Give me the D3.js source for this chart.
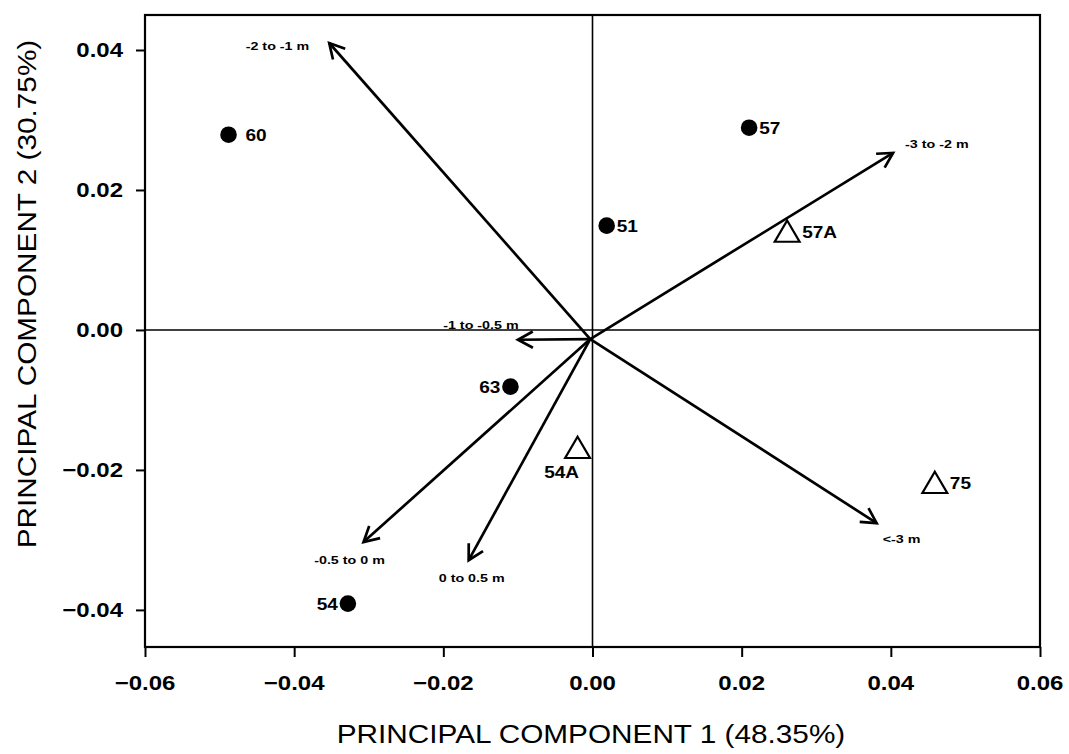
<!DOCTYPE html>
<html><head><meta charset="utf-8">
<script src="https://cdn.jsdelivr.net/npm/d3@7"></script>
<style>html,body{margin:0;padding:0;background:#fff;} svg{display:block;}</style>
</head><body>
<svg id="chart" width="1069" height="754"></svg>
<script>
// ---- data ----
const siteNames   = ["60", "57", "51", "57A", "63", "54", "54A", "75"];
const siteShapes  = ["circle", "circle", "circle", "triangle", "circle", "circle", "triangle", "triangle"];
const siteX       = [-0.0488, 0.0210, 0.0019, 0.0261, -0.0110, -0.0328, -0.0020, 0.0459];
const siteY       = [0.0279, 0.0289, 0.0149, 0.0140, -0.0081, -0.0391, -0.0169, -0.0219];
const siteLabelSide = ["farright", "right", "right", "right", "left", "left", "belowleft", "right"];

const vectorNames = ["-2 to -1 m", "-3 to -2 m", "-1 to -0.5 m", "-0.5 to 0 m", "0 to 0.5 m", "<-3 m"];
const vectorX     = [-0.0353, 0.0403, -0.0100, -0.0307, -0.0166, 0.0381];
const vectorY     = [0.0410, 0.0253, -0.0014, -0.0303, -0.0329, -0.0276];
const vectorOrigin = [-0.0003, -0.0013];
const vectorLabelSide = ["left", "right", "above", "below", "belowmid", "belowright"];

const xTicks = [-0.06, -0.04, -0.02, 0.00, 0.02, 0.04, 0.06];
const yTicks = [-0.04, -0.02, 0.00, 0.02, 0.04];
const xTitle = "PRINCIPAL COMPONENT 1 (48.35%)";
const yTitle = "PRINCIPAL COMPONENT 2 (30.75%)";

// ---- layout ----
const L = 145, R = 1040, T = 15, B = 647;
const FONT = "'Liberation Sans', Arial, Helvetica, sans-serif";
const svg = d3.select("#chart");
const x = d3.scaleLinear().domain([-0.06, 0.06]).range([L, R]);
const y = d3.scaleLinear().domain([-0.0453, 0.045]).range([B, T]);

// stretched text helper
function wideText(parent, px, py, str, opts) {
  const g = parent.append("g")
    .attr("transform", `translate(${px},${py}) ${opts.rotate ? "rotate(" + opts.rotate + ")" : ""} scale(${opts.sx || 1},1)`);
  g.append("text")
    .attr("x", 0).attr("y", 0)
    .attr("text-anchor", opts.anchor || "start")
    .attr("font-family", FONT)
    .attr("font-size", opts.size)
    .attr("font-weight", opts.weight || "normal")
    .attr("fill", "#000")
    .text(str);
  return g;
}

// zero lines
svg.append("line").attr("x1", L).attr("x2", R).attr("y1", y(0)).attr("y2", y(0))
  .attr("stroke", "#000").attr("stroke-width", 1.6);
svg.append("line").attr("x1", x(0)).attr("x2", x(0)).attr("y1", T).attr("y2", B)
  .attr("stroke", "#000").attr("stroke-width", 1.6);

// axes
const xAxis = svg.append("g").attr("transform", `translate(0,${B})`)
  .call(d3.axisBottom(x).tickValues(xTicks).tickSize(10).tickFormat(""));
const yAxis = svg.append("g").attr("transform", `translate(${L},0)`)
  .call(d3.axisLeft(y).tickValues(yTicks).tickSize(9).tickFormat(""));
[xAxis, yAxis].forEach(a => {
  a.select(".domain").remove();
  a.selectAll(".tick line").attr("stroke", "#000").attr("stroke-width", 2);
});
// frame
svg.append("rect").attr("x", L).attr("y", T).attr("width", R - L).attr("height", B - T)
  .attr("fill", "none").attr("stroke", "#000").attr("stroke-width", 2.2);

// tick labels
const fmt = d3.format(".2f");
xTicks.forEach(t => wideText(svg, x(t), 690, fmt(t), {size: 20, weight: "bold", anchor: "middle", sx: 1.2}));
yTicks.forEach(t => wideText(svg, 123, y(t) + 7, fmt(t), {size: 20, weight: "bold", anchor: "end", sx: 1.2}));

// axis titles
wideText(svg, 591, 743, xTitle, {size: 25, anchor: "middle", sx: 1.19});
wideText(svg, 36, 294, yTitle, {size: 25, anchor: "middle", sx: 1.19, rotate: -90});

// vectors
const ox = x(vectorOrigin[0]), oy = y(vectorOrigin[1]);
const vg = svg.append("g");
vectorNames.forEach((name, i) => {
  const tx = x(vectorX[i]), ty = y(vectorY[i]);
  vg.append("line").attr("x1", ox).attr("y1", oy).attr("x2", tx).attr("y2", ty)
    .attr("stroke", "#000").attr("stroke-width", 2.7);
  const ang = Math.atan2(ty - oy, tx - ox);
  const hl = 17, ha = 0.5;
  const p1 = [tx - hl * Math.cos(ang - ha), ty - hl * Math.sin(ang - ha)];
  const p2 = [tx - hl * Math.cos(ang + ha), ty - hl * Math.sin(ang + ha)];
  vg.append("path").attr("d", `M${p1[0]},${p1[1]}L${tx},${ty}L${p2[0]},${p2[1]}`)
    .attr("fill", "none").attr("stroke", "#000").attr("stroke-width", 2.7)
    .attr("stroke-linejoin", "miter");
  let lx, ly, anc;
  switch (vectorLabelSide[i]) {
    case "left": lx = tx - 20; ly = ty + 7; anc = "end"; break;
    case "right": lx = tx + 12; ly = ty - 5; anc = "start"; break;
    case "above": lx = tx - 37; ly = ty - 11; anc = "middle"; break;
    case "below": lx = tx - 14; ly = ty + 22; anc = "middle"; break;
    case "belowmid": lx = tx + 3; ly = ty + 22; anc = "middle"; break;
    case "belowright": lx = tx + 6; ly = ty + 20; anc = "start"; break;
  }
  wideText(vg, lx, ly, name, {size: 11, weight: "bold", anchor: anc, sx: 1.3});
});

// sites
const sg = svg.append("g");
siteNames.forEach((name, i) => {
  const cx = x(siteX[i]), cy = y(siteY[i]);
  if (siteShapes[i] === "circle") {
    sg.append("circle").attr("cx", cx).attr("cy", cy).attr("r", 8.3).attr("fill", "#000");
  } else {
    const s = 11.5;
    sg.append("path")
      .attr("d", `M${cx},${cy - s}L${cx + s * 1.08},${cy + s * 0.85}L${cx - s * 1.08},${cy + s * 0.85}Z`)
      .attr("fill", "#fff").attr("stroke", "#000").attr("stroke-width", 2.2);
  }
  let lx, ly, anc;
  const off = siteShapes[i] === "circle" ? 10 : 15;
  switch (siteLabelSide[i]) {
    case "farright": lx = cx + 17; ly = cy + 6; anc = "start"; break;
    case "right": lx = cx + off; ly = cy + 6; anc = "start"; break;
    case "left": lx = cx - off; ly = cy + 6; anc = "end"; break;
    case "belowleft": lx = cx - 16; ly = cy + 30; anc = "middle"; break;
  }
  wideText(sg, lx, ly, name, {size: 17, weight: "bold", anchor: anc, sx: 1.12});
});
</script>
</body></html>
